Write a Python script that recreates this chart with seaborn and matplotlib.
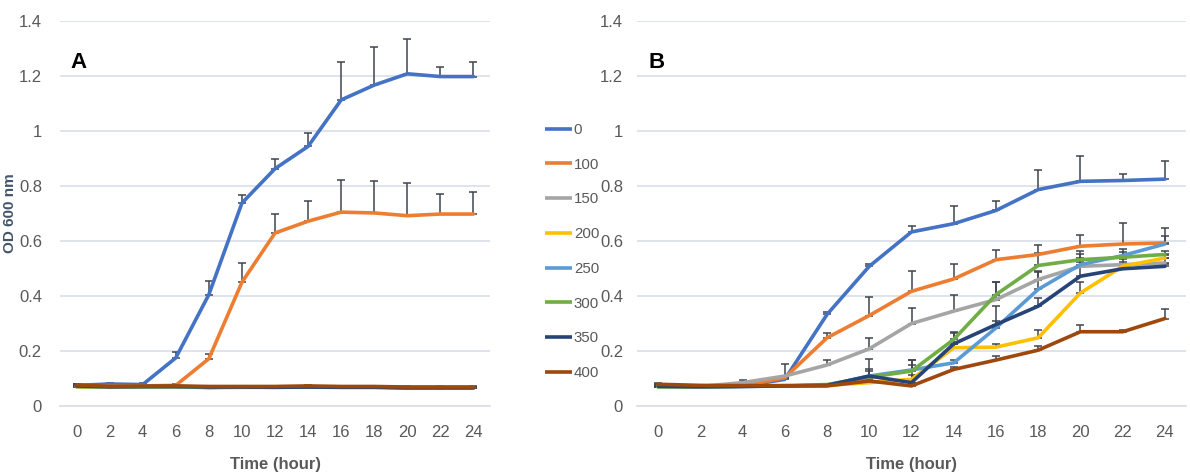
import numpy as np
import pandas as pd
import matplotlib
matplotlib.use("Agg")
import matplotlib.pyplot as plt
import seaborn as sns

# Sampling times (hours)
hours = [0, 2, 4, 6, 8, 10, 12, 14, 16, 18, 20, 22, 24]
concentrations = ["0", "100", "150", "200", "250", "300", "350", "400"]
colors = ["#4472C4", "#ED7D31", "#A5A5A5", "#FFC000", "#5B9BD5", "#70AD47", "#264478", "#9E480E"]

# Panel A: OD600 means
a_0   = [0.075, 0.080, 0.078, 0.175, 0.405, 0.738, 0.863, 0.944, 1.113, 1.167, 1.208, 1.198, 1.198]
a_100 = [0.075, 0.072, 0.073, 0.075, 0.172, 0.450, 0.629, 0.672, 0.705, 0.702, 0.692, 0.698, 0.698]
a_150 = [0.072, 0.070, 0.070, 0.071, 0.068, 0.069, 0.069, 0.070, 0.069, 0.069, 0.067, 0.067, 0.067]
a_200 = [0.070, 0.068, 0.070, 0.071, 0.068, 0.069, 0.069, 0.070, 0.069, 0.069, 0.067, 0.067, 0.067]
a_250 = [0.072, 0.070, 0.070, 0.070, 0.067, 0.068, 0.068, 0.069, 0.068, 0.068, 0.066, 0.066, 0.066]
a_300 = [0.070, 0.070, 0.070, 0.070, 0.068, 0.069, 0.069, 0.070, 0.069, 0.069, 0.067, 0.067, 0.067]
a_350 = [0.073, 0.070, 0.071, 0.071, 0.069, 0.069, 0.068, 0.069, 0.068, 0.068, 0.066, 0.066, 0.066]
a_400 = [0.077, 0.071, 0.072, 0.073, 0.071, 0.071, 0.071, 0.073, 0.071, 0.071, 0.069, 0.069, 0.069]

# Panel A: upper error (SD)
a_0_err   = [0.004, 0.004, 0.004, 0.020, 0.050, 0.030, 0.037, 0.048, 0.137, 0.140, 0.125, 0.036, 0.052]
a_100_err = [0.004, 0.004, 0.004, 0.004, 0.016, 0.070, 0.071, 0.072, 0.118, 0.115, 0.118, 0.073, 0.079]

# Panel B: OD600 means
b_0   = [0.073, 0.071, 0.072, 0.097, 0.333, 0.508, 0.633, 0.663, 0.711, 0.787, 0.817, 0.820, 0.825]
b_100 = [0.075, 0.071, 0.073, 0.103, 0.248, 0.329, 0.417, 0.462, 0.532, 0.551, 0.581, 0.589, 0.593]
b_150 = [0.070, 0.071, 0.085, 0.109, 0.149, 0.208, 0.300, 0.345, 0.387, 0.460, 0.508, 0.514, 0.520]
b_200 = [0.070, 0.070, 0.072, 0.073, 0.075, 0.085, 0.097, 0.212, 0.214, 0.248, 0.411, 0.508, 0.538]
b_250 = [0.070, 0.070, 0.071, 0.073, 0.075, 0.109, 0.131, 0.157, 0.284, 0.424, 0.514, 0.547, 0.589]
b_300 = [0.070, 0.070, 0.072, 0.074, 0.078, 0.105, 0.127, 0.242, 0.405, 0.511, 0.532, 0.541, 0.551]
b_350 = [0.072, 0.070, 0.071, 0.073, 0.075, 0.109, 0.085, 0.226, 0.296, 0.363, 0.472, 0.499, 0.508]
b_400 = [0.079, 0.075, 0.074, 0.074, 0.073, 0.091, 0.073, 0.133, 0.167, 0.203, 0.270, 0.270, 0.318]

# Panel B: upper error (SD)
b_0_err   = [0.003, 0.003, 0.003, 0.005, 0.009, 0.009, 0.023, 0.065, 0.036, 0.072, 0.091, 0.025, 0.066]
b_100_err = [0.003, 0.003, 0.003, 0.004, 0.018, 0.067, 0.073, 0.056, 0.034, 0.036, 0.042, 0.077, 0.055]
b_150_err = [0.003, 0.003, 0.008, 0.042, 0.017, 0.040, 0.057, 0.058, 0.063, 0.030, 0.030, 0.020, 0.020]
b_200_err = [0.003, 0.003, 0.003, 0.003, 0.003, 0.010, 0.015, 0.012, 0.010, 0.030, 0.040, 0.015, 0.012]
b_250_err = [0.003, 0.003, 0.003, 0.003, 0.003, 0.020, 0.038, 0.010, 0.025, 0.065, 0.040, 0.025, 0.030]
b_300_err = [0.003, 0.003, 0.003, 0.003, 0.003, 0.030, 0.040, 0.027, 0.045, 0.046, 0.030, 0.020, 0.012]
b_350_err = [0.003, 0.003, 0.003, 0.003, 0.003, 0.063, 0.065, 0.040, 0.067, 0.030, 0.050, 0.015, 0.010]
b_400_err = [0.003, 0.003, 0.003, 0.003, 0.003, 0.010, 0.010, 0.010, 0.015, 0.015, 0.026, 0.005, 0.033]

panel_a = [a_0, a_100, a_150, a_200, a_250, a_300, a_350, a_400]
panel_a_err = [a_0_err, a_100_err] + [[0.003] * len(hours)] * 6
panel_b = [b_0, b_100, b_150, b_200, b_250, b_300, b_350, b_400]
panel_b_err = [b_0_err, b_100_err, b_150_err, b_200_err, b_250_err, b_300_err, b_350_err, b_400_err]


def to_long(series_list, err_list):
    rows = []
    for conc, vals, errs in zip(concentrations, series_list, err_list):
        for h, v, e in zip(hours, vals, errs):
            rows.append({"Time": h, "OD": v, "err": e, "Concentration": conc})
    return pd.DataFrame(rows)


df_a = to_long(panel_a, panel_a_err)
df_b = to_long(panel_b, panel_b_err)

sns.set_theme(style="white")
plt.rcParams["font.family"] = ["Liberation Sans", "DejaVu Sans"]

text_gray = "#595959"
grid_gray = "#D9DEE8"
err_color = "#3F4550"
palette = dict(zip(concentrations, colors))

fig = plt.figure(figsize=(11.9, 4.72), dpi=100)
ax_a = fig.add_axes([60 / 1190, 66 / 472, 430 / 1190, 385 / 472])
ax_b = fig.add_axes([637 / 1190, 66 / 472, 549 / 1190, 385 / 472])


def draw_panel(ax, df):
    # error bars (upper only) behind the lines
    for conc in concentrations:
        sub = df[df["Concentration"] == conc]
        ax.errorbar(sub["Time"], sub["OD"], yerr=[np.zeros(len(sub)), sub["err"]],
                    fmt="none", ecolor=err_color, elinewidth=1.1, capsize=3,
                    capthick=1.1, zorder=2)
    sns.lineplot(data=df, x="Time", y="OD", hue="Concentration",
                 hue_order=concentrations, palette=palette, linewidth=2.6,
                 errorbar=None, legend=False, ax=ax, zorder=3)
    ax.set_xlim(-1, 25)
    ax.set_ylim(0, 1.4)
    yt = [0, 0.2, 0.4, 0.6, 0.8, 1.0, 1.2, 1.4]
    ax.set_yticks(yt)
    ax.set_yticklabels(["0", "0.2", "0.4", "0.6", "0.8", "1", "1.2", "1.4"])
    ax.set_xticks(hours)
    ax.set_xticks(np.arange(-1, 26, 2), minor=True)
    ax.tick_params(axis="x", which="major", length=0, pad=14, labelsize=12, colors=text_gray)
    ax.tick_params(axis="x", which="minor", length=6, width=1, color=grid_gray, direction="out")
    ax.tick_params(axis="y", length=0, pad=13, labelsize=12, colors=text_gray)
    ax.yaxis.grid(True, color=grid_gray, linewidth=1.2)
    ax.set_axisbelow(True)
    for side in ["top", "right", "left"]:
        ax.spines[side].set_visible(False)
    ax.spines["bottom"].set_color(grid_gray)
    ax.spines["bottom"].set_linewidth(1.2)
    ax.set_xlabel("Time (hour)", fontsize=12, fontweight="bold", color=text_gray, labelpad=12)


draw_panel(ax_a, df_a)
draw_panel(ax_b, df_b)
ax_a.set_ylabel("OD 600 nm", fontsize=11, fontweight="bold", color="#44546A")
ax_a.yaxis.set_label_coords(-43 / 430, 0.5)
ax_b.set_ylabel("")
ax_b.tick_params(axis="y", pad=10)

# panel letters
fig.text(70 / 1190, 1 - 63 / 472, "A", fontsize=16, fontweight="bold", color="black",
         ha="left", va="center")
fig.text(648 / 1190, 1 - 63 / 472, "B", fontsize=16, fontweight="bold", color="black",
         ha="left", va="center")

handles = [plt.Line2D([0], [0], color=c, linewidth=2.6, solid_capstyle="butt") for c in colors]
leg = fig.legend(handles, concentrations, loc="upper left",
                 bbox_to_anchor=(539 / 1190, 1 - 117 / 472), frameon=False,
                 handlelength=1.8, handletextpad=0.12, labelspacing=1.38,
                 fontsize=10.8, borderaxespad=0)
for t in leg.get_texts():
    t.set_color(text_gray)

fig.savefig("out.png", dpi=100)
